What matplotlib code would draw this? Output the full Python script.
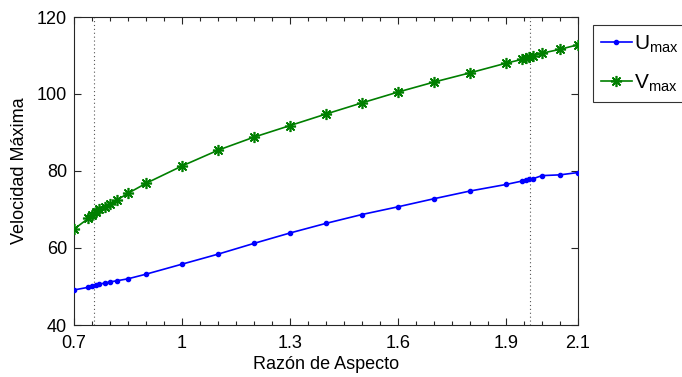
import numpy as np
import matplotlib
matplotlib.use("Agg")
import matplotlib.pyplot as plt
from matplotlib.ticker import MultipleLocator

plt.rcParams['font.family'] = ['Liberation Sans', 'DejaVu Sans']
plt.rcParams['mathtext.fontset'] = 'custom'
plt.rcParams['mathtext.rm'] = 'Liberation Sans'

# Aspect ratio samples and maximum velocities
razon = [0.70, 0.74, 0.75, 0.76, 0.77, 0.785, 0.80, 0.82, 0.85, 0.90,
         1.00, 1.10, 1.20, 1.30, 1.40, 1.50, 1.60, 1.70, 1.80, 1.90,
         1.945, 1.955, 1.965, 1.975, 2.00, 2.05, 2.10]
u_max = [49.1, 49.8, 50.05, 50.3, 50.6, 50.9, 51.2, 51.5, 52.0, 53.2,
         55.8, 58.4, 61.2, 63.9, 66.4, 68.7, 70.7, 72.8, 74.8, 76.5,
         77.4, 77.6, 77.8, 78.0, 78.8, 79.0, 79.6]
v_max = [64.9, 67.7, 68.6, 69.4, 70.1, 70.7, 71.3, 72.5, 74.2, 76.8,
         81.3, 85.4, 88.8, 91.8, 94.8, 97.7, 100.5, 103.1, 105.5, 108.0,
         109.0, 109.3, 109.7, 109.9, 110.6, 111.6, 112.8]

# Limits of the marked aspect ratio interval
limites = [0.756, 1.967]

xticks = [0.7, 1.0, 1.3, 1.6, 1.9, 2.1]
xticklabels = ['0.7', '1', '1.3', '1.6', '1.9', '2.1']
yticks = [40, 60, 80, 100, 120]

fig = plt.figure(figsize=(6.82, 3.77), dpi=100)
ax = fig.add_axes([74/682, 1 - 325/377, (578 - 74)/682, (325 - 17)/377])

for xl in limites:
    ax.axvline(xl, color='#555555', linestyle=(0, (1, 2.5)), linewidth=0.8, zorder=1)

ax.plot(razon, u_max, color='#0000ff', marker='.', markersize=6, linewidth=1.2,
        label=r'$\mathrm{U_{max}}$', zorder=3)
ax.plot(razon, v_max, color='#007f00', marker=(8, 2, 0), markersize=8,
        markeredgewidth=1.2, linewidth=1.2,
        label=r'$\mathrm{V_{max}}$', zorder=3)

ax.set_xlim(0.7, 2.1)
ax.set_ylim(40, 120)
ax.set_xticks(xticks)
ax.set_xticklabels(xticklabels)
ax.xaxis.set_minor_locator(MultipleLocator(0.05))
ax.set_yticks(yticks)

ax.tick_params(which='both', direction='in', top=True, right=True,
               labelsize=13, colors='#262626', labelcolor='black')
ax.tick_params(axis='x', pad=7)
ax.tick_params(axis='y', pad=5)
ax.tick_params(which='major', length=5, width=0.8)
ax.tick_params(which='minor', length=3, width=0.8)
for s in ax.spines.values():
    s.set_color('#262626')
    s.set_linewidth(0.8)

ax.set_xlabel('Razón de Aspecto', fontsize=13, labelpad=3)
ax.set_ylabel('Velocidad Máxima', fontsize=13, labelpad=6)

leg = fig.legend(loc='upper left', bbox_to_anchor=(593/682, 1 - 25/377),
                 fontsize=15, frameon=True, fancybox=False, edgecolor='black',
                 handlelength=1.45, handletextpad=0.1, borderpad=0.4,
                 labelspacing=0.85, borderaxespad=0)
leg.get_frame().set_linewidth(0.8)

fig.savefig('out.png', dpi=100)
